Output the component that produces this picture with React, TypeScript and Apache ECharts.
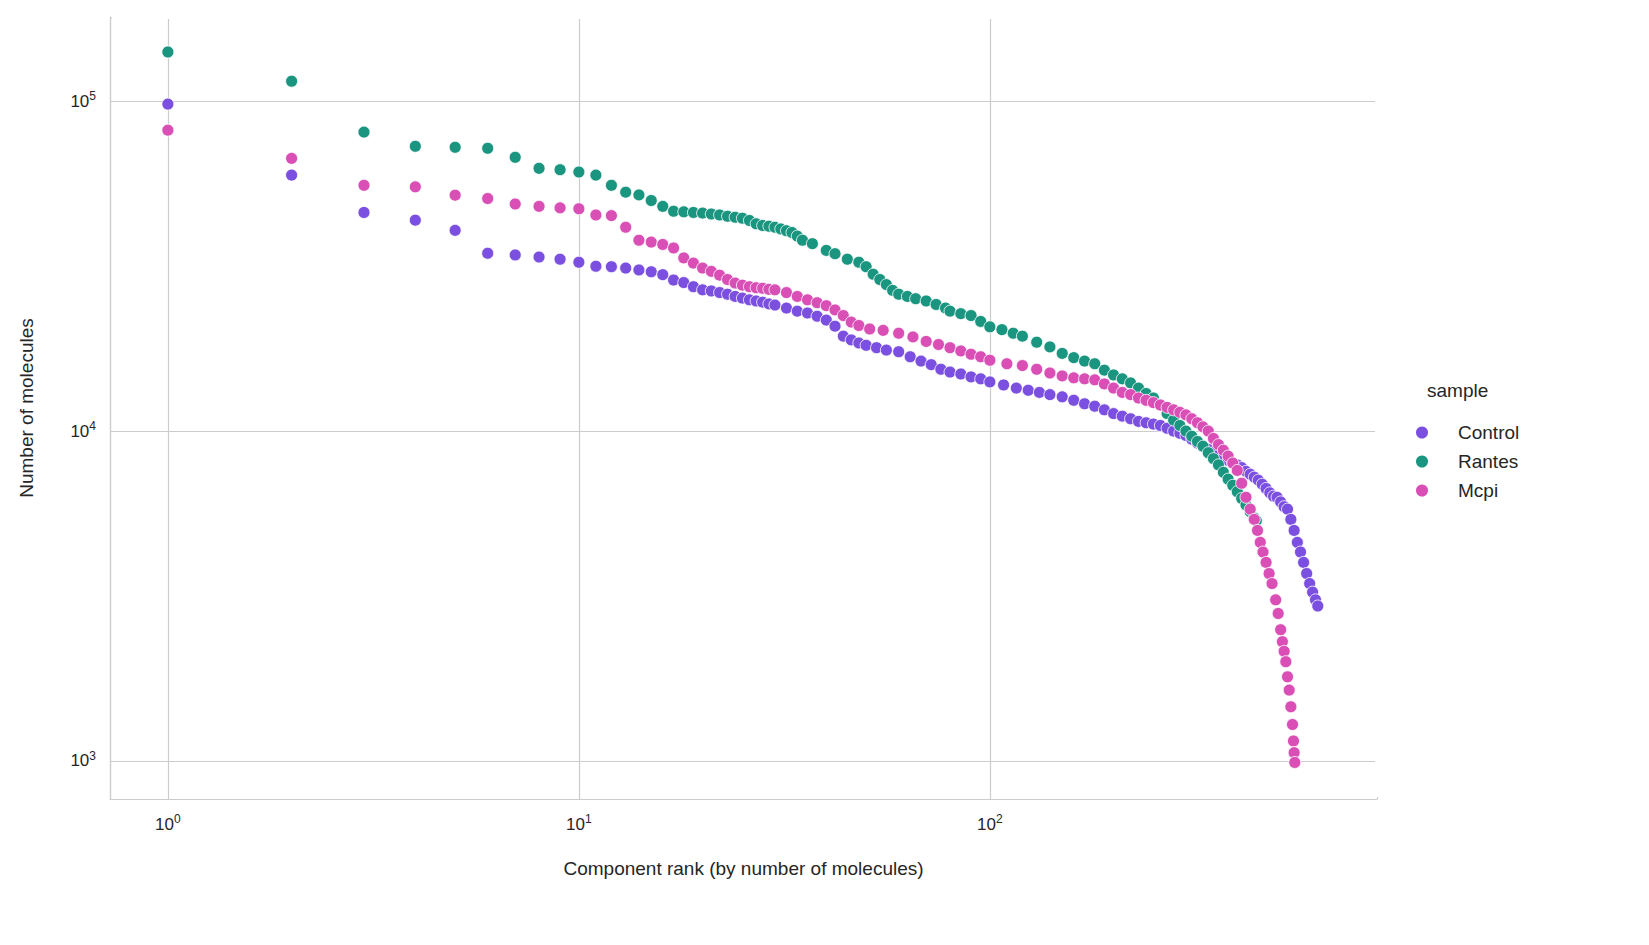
import React, { useEffect, useRef } from 'react';
import * as echarts from 'echarts';

type Pt = [number, number];

const sampleNames = ['Control', 'Rantes', 'Mcpi'];
const sampleColors = ['#7b4fe0', '#1a9580', '#d94fb5'];

// [component rank, number of molecules]
const control: Pt[] = [
  [1, 98000], [2, 59700], [3, 46000], [4, 43600], [5, 40600], [6, 34600], [7, 34200], [8, 33700],
  [9, 33200], [10, 32500], [11, 31600], [12, 31500], [13, 31200], [14, 30800], [15, 30400], [16, 29800],
  [17, 28700], [18, 28200], [19, 27400], [20, 26800], [21, 26600], [22, 26300], [23, 26000], [24, 25600],
  [25, 25300], [26, 25000], [27, 24800], [28, 24600], [29, 24300], [30, 24100], [32, 23600], [34, 23100],
  [36, 22800], [38, 22300], [40, 21700], [42, 20800], [44, 19400], [46, 18900], [48, 18500], [50, 18200],
  [53, 17900], [56, 17600], [60, 17400], [64, 16800], [68, 16300], [72, 15900], [76, 15400], [80, 15100],
  [85, 14900], [90, 14600], [95, 14400], [100, 14100], [108, 13800], [116, 13500], [124, 13300], [132, 13100],
  [140, 12900], [150, 12700], [160, 12400], [170, 12100], [180, 11900], [190, 11600], [200, 11300], [210, 11100],
  [220, 10900], [230, 10700], [240, 10600], [250, 10500], [260, 10400], [270, 10200], [280, 10000], [290, 9850],
  [300, 9700], [310, 9450], [320, 9200], [330, 9000], [340, 8800], [350, 8600], [360, 8450], [370, 8300],
  [380, 8150], [390, 8000], [400, 7900], [410, 7750], [420, 7550], [430, 7400], [440, 7250], [450, 7100],
  [460, 6900], [470, 6700], [480, 6500], [490, 6350], [500, 6300], [510, 6100], [520, 5900], [530, 5800],
  [540, 5400], [550, 5000], [560, 4600], [570, 4300], [580, 4000], [590, 3700], [600, 3450], [610, 3250],
  [620, 3080], [628, 2950],
];

const rantes: Pt[] = [
  [1, 141000], [2, 115000], [3, 80600], [4, 73000], [5, 72500], [6, 72000], [7, 67600], [8, 62600],
  [9, 62000], [10, 61000], [11, 59700], [12, 55600], [13, 53000], [14, 52000], [15, 50000], [16, 48000],
  [17, 46400], [18, 46200], [19, 46000], [20, 45800], [21, 45500], [22, 45200], [23, 44800], [24, 44500],
  [25, 44200], [26, 43500], [27, 42500], [28, 42000], [29, 41800], [30, 41500], [31, 41000], [32, 40500],
  [33, 40000], [34, 39000], [35, 37900], [37, 37000], [40, 35300], [42, 34500], [45, 33200], [48, 32500],
  [50, 31500], [52, 29900], [54, 28800], [56, 27800], [58, 26700], [60, 26000], [63, 25600], [66, 25200],
  [70, 24800], [74, 24200], [78, 23600], [80, 23100], [85, 22700], [90, 22400], [95, 21500], [100, 20700],
  [107, 20300], [114, 19800], [120, 19400], [130, 18600], [140, 18000], [150, 17200], [160, 16700], [170, 16300],
  [180, 16000], [190, 15300], [200, 14800], [210, 14400], [220, 14000], [230, 13500], [240, 13000], [250, 12600],
  [260, 12000], [270, 11300], [280, 10800], [290, 10400], [300, 10000], [310, 9650], [320, 9300], [330, 9000],
  [340, 8600], [350, 8250], [360, 7900], [370, 7500], [380, 7150], [390, 6850], [400, 6550], [410, 6250],
  [420, 5970], [430, 5700], [440, 5450], [445, 5350],
];

const mcpi: Pt[] = [
  [1, 81700], [2, 67100], [3, 55600], [4, 55000], [5, 51900], [6, 50700], [7, 48800], [8, 48000],
  [9, 47500], [10, 47200], [11, 45200], [12, 45000], [13, 41500], [14, 37900], [15, 37400], [16, 36800],
  [17, 35900], [18, 33500], [19, 32300], [20, 31200], [21, 30500], [22, 29700], [23, 28800], [24, 28100],
  [25, 27700], [26, 27400], [27, 27200], [28, 27100], [29, 26900], [30, 26800], [32, 26300], [34, 25600],
  [36, 25000], [38, 24500], [40, 24000], [42, 23300], [44, 22400], [46, 21400], [48, 20900], [51, 20400],
  [55, 20200], [60, 19800], [65, 19300], [70, 18700], [75, 18300], [80, 17900], [85, 17500], [90, 17100],
  [95, 16800], [100, 16400], [110, 16000], [120, 15800], [130, 15400], [140, 15000], [150, 14700], [160, 14500],
  [170, 14400], [180, 14300], [190, 13900], [200, 13500], [210, 13100], [220, 12900], [230, 12600], [240, 12400],
  [250, 12200], [260, 12000], [270, 11800], [280, 11600], [290, 11400], [300, 11200], [310, 10900], [320, 10600],
  [330, 10300], [340, 10000], [350, 9500], [360, 9100], [370, 8750], [380, 8400], [390, 8000], [400, 7600],
  [410, 6950], [420, 6300], [430, 5800], [440, 5400], [448, 5000], [455, 4600], [462, 4300], [470, 4000],
  [478, 3700], [486, 3450], [496, 3080], [503, 2800], [510, 2500], [515, 2300], [520, 2150], [525, 2000],
  [530, 1800], [535, 1640], [540, 1460], [545, 1290], [548, 1150], [550, 1060], [552, 990],
];

const sampleData = [control, rantes, mcpi];

const FONT = 'Liberation Sans, Arial, sans-serif';
const GRID = { left: 102, top: 9, width: 1267, height: 782 };

const supLabel = (v: number) => {
  const e = Math.round(Math.log10(v));
  if (Math.abs(Math.log10(v) - e) > 1e-6) return '';
  return `{b|10}{s|${e}}`;
};

const labelRich = {
  b: { fontSize: 17, color: '#262626', fontFamily: FONT },
  s: { fontSize: 12, color: '#262626', verticalAlign: 'top', padding: [0, 0, 10, 0], fontFamily: FONT },
};

export default function App() {
  const ref = useRef<HTMLDivElement | null>(null);

  useEffect(() => {
    if (!ref.current) return;
    const inst = echarts.init(ref.current, undefined, { renderer: 'svg' });
    inst.setOption({
      animation: false,
      backgroundColor: '#ffffff',
      textStyle: { fontFamily: FONT },
      grid: GRID,
      xAxis: {
        type: 'log',
        logBase: 10,
        min: 0.723,
        max: 875,
        name: 'Component rank (by number of molecules)',
        nameLocation: 'middle',
        nameGap: 60,
        nameTextStyle: { fontSize: 19, color: '#262626' },
        axisLine: { lineStyle: { color: '#cccccc', width: 1.2 } },
        axisTick: { show: false },
        axisLabel: { formatter: supLabel, rich: labelRich, margin: 14, showMinLabel: false, showMaxLabel: false },
        splitLine: { show: true, lineStyle: { color: '#cccccc', width: 1.2 } },
      },
      yAxis: {
        type: 'log',
        logBase: 10,
        min: 767,
        max: 180000,
        name: 'Number of molecules',
        nameLocation: 'middle',
        nameGap: 74,
        nameTextStyle: { fontSize: 19, color: '#262626' },
        axisLine: { show: true, lineStyle: { color: '#cccccc', width: 1.2 } },
        axisTick: { show: false },
        axisLabel: { formatter: supLabel, rich: labelRich, margin: 14, showMinLabel: false, showMaxLabel: false },
        splitLine: { show: true, lineStyle: { color: '#cccccc', width: 1.2 } },
      },
      legend: {
        orient: 'vertical',
        left: 1401,
        top: 410,
        itemGap: 10,
        itemWidth: 14,
        itemHeight: 14,
        icon: 'circle',
        textStyle: { fontSize: 19, color: '#262626', padding: [0, 0, 0, 24] },
        data: sampleNames,
      },
      graphic: [
        // cover the split lines that ECharts draws at the top and right extent (seaborn despine)
        { type: 'rect', z: 1, shape: { x: GRID.left + 2, y: GRID.top - 2, width: GRID.width + 2, height: 4 }, style: { fill: '#ffffff' } },
        { type: 'rect', z: 1, shape: { x: GRID.left + GRID.width - 2, y: GRID.top - 2, width: 4, height: GRID.height }, style: { fill: '#ffffff' } },
        {
          type: 'text',
          left: 1419,
          top: 373,
          style: { text: 'sample', fontSize: 19, fill: '#262626', fontFamily: FONT },
        },
      ],
      series: sampleNames.map((name, i) => ({
        name,
        type: 'scatter',
        data: sampleData[i],
        symbolSize: 12,
        z: 3,
        itemStyle: { color: sampleColors[i], borderColor: '#ffffff', borderWidth: 0.8, opacity: 1 },
      })),
    });
    return () => inst.dispose();
  }, []);

  return <div ref={ref} style={{ width: 1633, height: 929 }} />;
}
